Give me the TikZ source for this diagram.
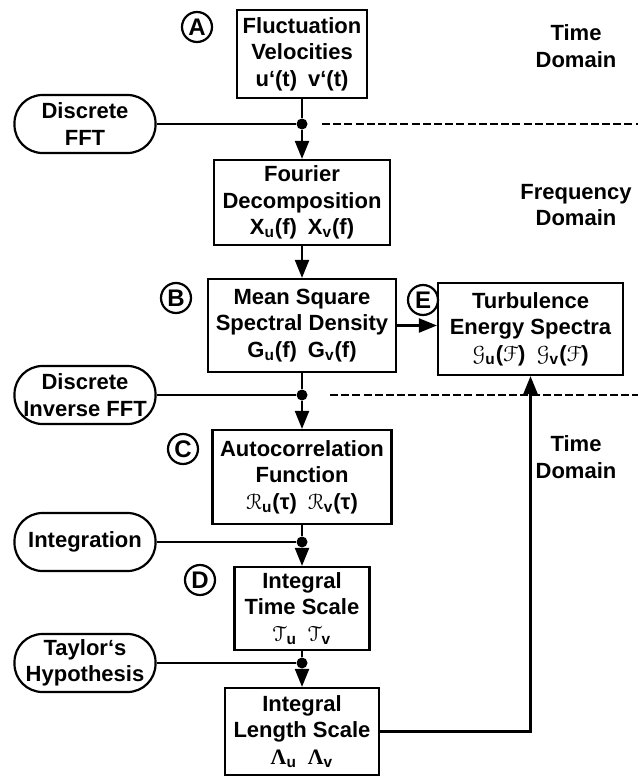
\documentclass[tikz,border=0pt]{standalone}
\usepackage{fontspec}
\setmainfont{Liberation Sans}
\newfontfamily\greekserif{Liberation Serif}
\usepackage{eucal}
\usetikzlibrary{arrows.meta}

\begin{document}
\begin{tikzpicture}[
  x=0.5pt,y=-0.5pt,
  font=\fontsize{11}{13.2}\selectfont\bfseries,
  stage/.style={draw,line width=1.1pt,align=center,inner sep=0pt},
  op/.style={draw,line width=1.1pt,rounded corners=14pt,align=center,
             inner sep=0pt,minimum width=70.5pt,minimum height=29pt},
  letter/.style={circle,draw,line width=1.1pt,inner sep=0pt,minimum size=15pt,
                 font=\fontsize{12}{14}\selectfont\bfseries},
  flow/.style={line width=1.1pt,-{Triangle[length=9pt,width=7pt]}},
  wire/.style={line width=1.1pt},
  split/.style={line width=1pt,dash pattern=on 4pt off 1.6pt},
  dot/.style={circle,fill,inner sep=0pt,minimum size=5.5pt},
  regionlabel/.style={align=center},
]
\useasboundingbox (0,0) rectangle (638,776);

% ============================ main chain ============================
\node[stage,minimum width=65pt,minimum height=44pt] (vel) at (302,54)
  {Fluctuation\\Velocities\\u‘(t)\enspace v‘(t)};
\node[stage,minimum width=88pt,minimum height=42.5pt] (four) at (302,202.5)
  {Fourier\\Decomposition\\X\textsubscript{u}(f)\enspace X\textsubscript{v}(f)};
\node[stage,minimum width=94pt,minimum height=46.5pt] (msd) at (302,325.5)
  {Mean Square\\Spectral Density\\G\textsubscript{u}(f)\enspace G\textsubscript{v}(f)};
\node[stage,minimum width=89.5pt,minimum height=47pt] (acf) at (302,477)
  {Autocorrelation\\Function\\$\mathcal{R}$\textsubscript{u}(τ)\enspace $\mathcal{R}$\textsubscript{v}(τ)};
\node[stage,minimum width=67.5pt,minimum height=41.5pt] (its) at (302,608.5)
  {Integral\\Time Scale\\$\mathcal{T}$\textsubscript{u}\enspace $\mathcal{T}$\textsubscript{v}};
\node[stage,minimum width=77pt,minimum height=43.5pt] (ils) at (302,731.5)
  {Integral\\Length Scale\\{\greekserif Λ}\textsubscript{u}\enspace {\greekserif Λ}\textsubscript{v}};

% side branch
\node[stage,minimum width=92.5pt,minimum height=46pt] (spec) at (530.5,329)
  {Turbulence\\Energy Spectra\\$\mathcal{G}$\textsubscript{u}($\mathcal{F}$)\enspace $\mathcal{G}$\textsubscript{v}($\mathcal{F}$)};

% ---- step letters ----
\node[letter] (la) at (197,27) {A};
\node[letter] (lb) at (176,298) {B};
\node[letter] (lc) at (183,449) {C};
\node[letter] (ld) at (200,580) {D};
\node[letter] (le) at (423,300) {E};

% ---- operations ----
\node[op] (fft) at (85,124) {Discrete\\FFT};
\node[op] (ifft) at (85,395) {Discrete\\Inverse FFT};
\node[op] (intg) at (85,542) {Integration};
\node[op] (taylor) at (85,663) {Taylor‘s\\Hypothesis};

\node[dot] (j1) at (302,124) {};
\node[dot] (j2) at (302,395) {};
\node[dot] (j3) at (302,542) {};
\node[dot] (j4) at (302,663) {};

% ---- connectors ----
\draw[wire] (vel) -- (j1);   \draw[wire] (fft) -- (j1);   \draw[flow] (j1) -- (four);
\draw[flow] (four) -- (msd);
\draw[wire] (msd) -- (j2);   \draw[wire] (ifft) -- (j2);  \draw[flow] (j2) -- (acf);
\draw[wire] (acf) -- (j3);   \draw[wire] (intg) -- (j3);  \draw[flow] (j3) -- (its);
\draw[wire] (its) -- (j4);   \draw[wire] (taylor) -- (j4);\draw[flow] (j4) -- (ils);
\draw[flow] (msd.east) -- (msd.east -| spec.west);
\draw[flow] (ils.east) -| (spec.south);

% ============================ domains ============================
\coordinate (d1a) at (322,124); \coordinate (d1b) at (638,124);
\coordinate (d2a) at (330,395); \coordinate (d2b) at (638,395);
\draw[split] (d1a) -- (d1b);
\draw[split] (d2a) -- (d2b);

\node[regionlabel] (time1) at (576,46) {Time\\Domain};
\node[regionlabel] (freq) at (576,205) {Frequency\\Domain};
\node[regionlabel] (time2) at (576,457) {Time\\Domain};

\end{tikzpicture}
\end{document}
